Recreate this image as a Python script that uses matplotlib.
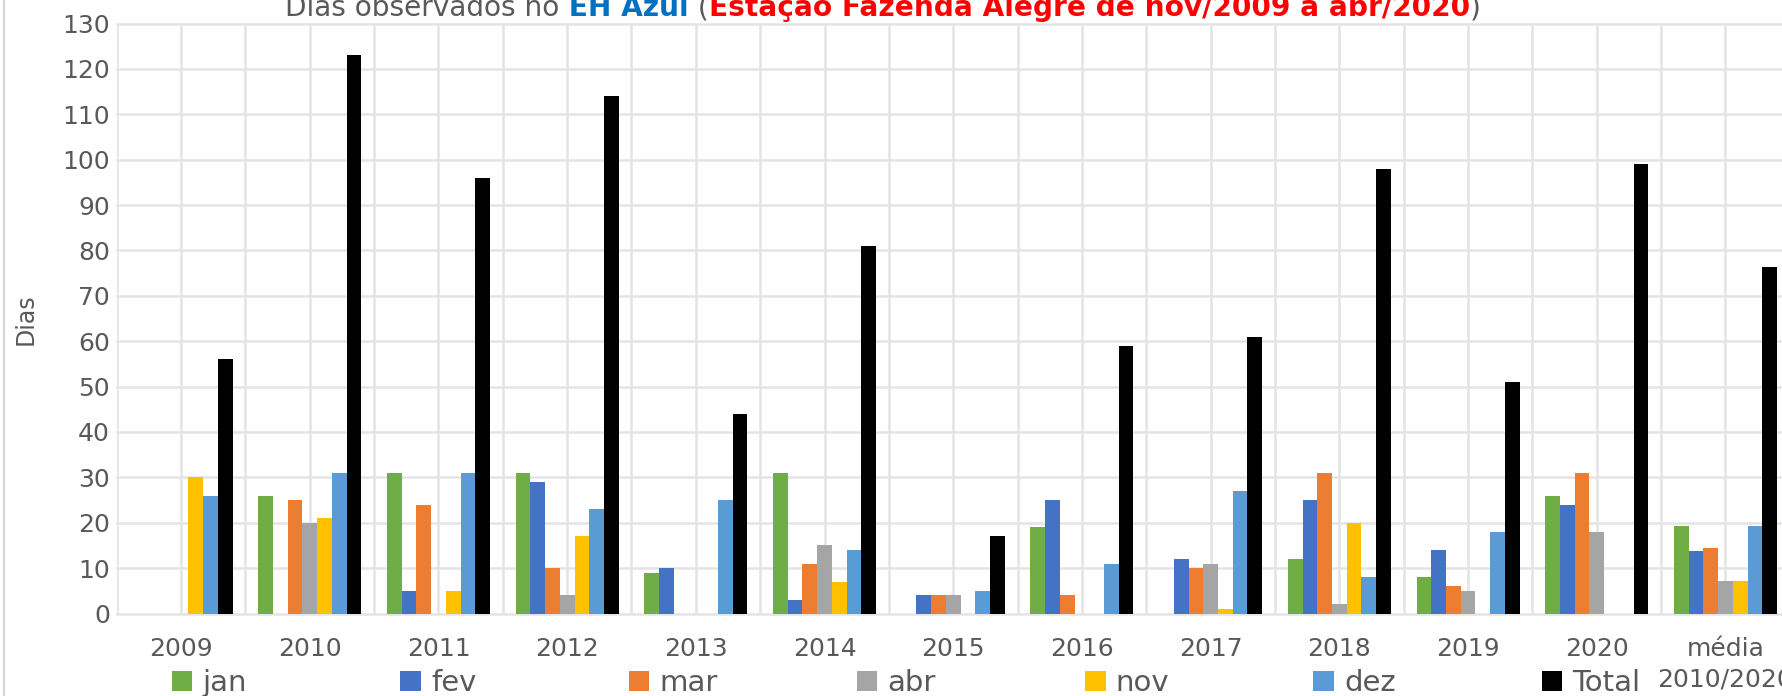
import matplotlib
matplotlib.use("Agg")
import matplotlib.pyplot as plt
import numpy as np

categories = ["2009", "2010", "2011", "2012", "2013", "2014", "2015", "2016",
              "2017", "2018", "2019", "2020", "média\n2010/2020"]
jan = [0, 26, 31, 31, 9, 31, 0, 19, 0, 12, 8, 26, 19.2]
fev = [0, 0, 5, 29, 10, 3, 4, 25, 12, 25, 14, 24, 13.7]
mar = [0, 25, 24, 10, 0, 11, 4, 4, 10, 31, 6, 31, 14.4]
abr = [0, 20, 0, 4, 0, 15, 4, 0, 11, 2, 5, 18, 7.1]
nov = [30, 21, 5, 17, 0, 7, 0, 0, 1, 20, 0, 0, 7.1]
dez = [26, 31, 31, 23, 25, 14, 5, 11, 27, 8, 18, 0, 19.2]
total = [56, 123, 96, 114, 44, 81, 17, 59, 61, 98, 51, 99, 76.4]

series_names = ["jan", "fev", "mar", "abr", "nov", "dez", "Total"]
series_vals = [jan, fev, mar, abr, nov, dez, total]
series_colors = ["#70AD47", "#4472C4", "#ED7D31", "#A5A5A5", "#FFC000", "#5B9BD5", "#000000"]

W, H = 1783, 696
fig = plt.figure(figsize=(W / 100, H / 100), dpi=100)
cat_w = 128.7
left_px, bottom_px, height_px = 116.7, 82.5, 590
ax = fig.add_axes([left_px / W, bottom_px / H, 13 * cat_w / W, height_px / H])

x = np.arange(len(categories))
bw = 0.1143
handles = []
for i, (name, vals, col) in enumerate(zip(series_names, series_vals, series_colors)):
    b = ax.bar(x + (i - 3) * bw, vals, width=bw, color=col, label=name, zorder=3)
    handles.append(b)

ax.set_xlim(-0.5, 12.5)
ax.set_ylim(0, 130)
ax.set_yticks(np.arange(0, 131, 10))
ax.set_xticks(x)
ax.set_xticklabels(categories)
ax.set_xticks(np.arange(-0.5, 12.6, 1.0), minor=True)
ax.set_axisbelow(True)
grid_kw = dict(color="#e4e4e4", linewidth=1.8)
ax.grid(axis="y", which="major", **grid_kw)
ax.grid(axis="x", which="both", **grid_kw)
for ln in ax.get_ygridlines():
    ln.set_clip_on(False)
for s in ax.spines.values():
    s.set_visible(False)

ax.tick_params(axis="both", which="both", length=0, labelcolor="#595959", labelsize=18)
ax.tick_params(axis="y", pad=5)
ax.tick_params(axis="x", pad=17)
for lbl in ax.get_xticklabels():
    lbl.set_linespacing(1.35)
    lbl.set_verticalalignment("top")

# y label
fig.text(26 / W, 1 - 319 / H, "Dias", rotation=90, ha="center", va="center",
         fontsize=17, color="#595959", family=["Liberation Sans Narrow", "DejaVu Sans"])

# chart border on the left
fig.add_artist(plt.Line2D([4 / W, 4 / W], [0, 1], color="#d4d4d4", linewidth=1.5))

# legend entries at equal spacing
for i, h in enumerate(handles):
    xl = (172 + i * 228.3) / W
    fig.legend(handles=[h], labels=[series_names[i]], loc="center left",
               bbox_to_anchor=(xl, 13 / H), frameon=False, fontsize=21,
               handlelength=0.7, handleheight=0.7, handletextpad=0.35,
               borderpad=0, borderaxespad=0, labelcolor="#595959")

# multi-coloured title
renderer = fig.canvas.get_renderer()
pieces = [("Dias observados no", "#595959", "normal"),
          (" EH Azul", "#0070C0", "bold"),
          (" (", "#595959", "normal"),
          ("Estação Fazenda Alegre de nov/2009 a abr/2020", "#FF0000", "bold"),
          (")", "#595959", "normal")]
tx = 285
yb = 1 - 16 / H
for txt, col, wt in pieces:
    t = fig.text(tx / W, yb, txt, color=col, fontweight=wt, fontsize=20.2,
                 ha="left", va="baseline")
    bb = t.get_window_extent(renderer)
    tx = bb.x1

fig.savefig("out.png", dpi=100)
